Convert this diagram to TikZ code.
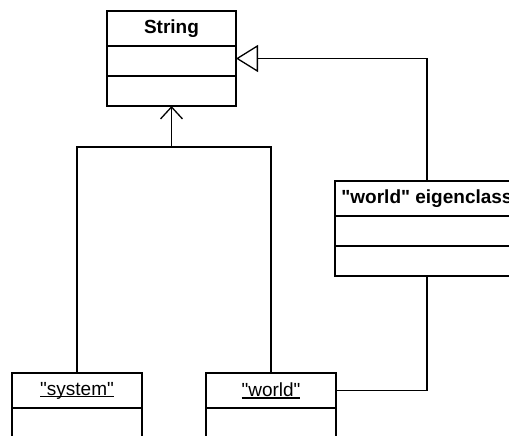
\documentclass[tikz,border=0pt]{standalone}
\usepackage{fontspec}
\newfontfamily\umlfont{Liberation Sans}
\usetikzlibrary{positioning,arrows.meta,calc}

\def\flabel#1{\umlfont\fontsize{19}{22}\selectfont #1}
\def\objname#1{\setbox0\hbox{#1}\rlap{\rule[-2.4pt]{\wd0}{1.1pt}}\box0}

\begin{document}
\begin{tikzpicture}[x=1pt,y=-1pt,line width=1.3pt,
    head/.style={draw,minimum width=#1,minimum height=35pt,inner sep=0pt,outer sep=0pt},
    head/.default=130pt,
    part/.style={draw,minimum width=#1,minimum height=30pt,inner sep=0pt,outer sep=0pt},
    part/.default=130pt,
    gen/.style={-{Triangle[open,length=22pt,width=27pt]}},
    dep/.style={-{Straight Barb[length=12pt,width=22pt]}}
    ]
    \useasboundingbox (0,0) rectangle (509,436);
    \clip (0,0) rectangle (509,436);

    % String class
    \node[head=129pt] (str) at (171.5,28.5) {\flabel{\bfseries String}};
    \node[part=129pt,below=0pt of str] (str-a) {};
    \node[part=129pt,below=0pt of str-a] (str-o) {};

    % eigenclass
    \node[head=184pt] (eig) at (427,198.5) {\flabel{\bfseries "world" eigenclass}};
    \node[part=184pt,below=0pt of eig] (eig-a) {};
    \node[part=184pt,below=0pt of eig-a] (eig-o) {};

    % objects
    \node[head] (sys) at (77,390.5) {\flabel{\objname{"system"}}};
    \node[part,below=0pt of sys] (sys-a) {};
    \node[head] (wld) at (271,390.5) {\flabel{\objname{"world"}}};
    \node[part,below=0pt of wld] (wld-a) {};

    % links
    \coordinate (join) at (str-o.south |- 0,147);
    \coordinate (strmid) at ($(str.north east)!0.5!(str-o.south east)$);
    \draw (sys.north) |- (join) -| (wld.north);
    \draw[dep] (join) -- (str-o.south);
    \draw[gen] (eig.north) |- (strmid);
    \draw (eig-o.south) |- (wld.east);
\end{tikzpicture}
\end{document}
